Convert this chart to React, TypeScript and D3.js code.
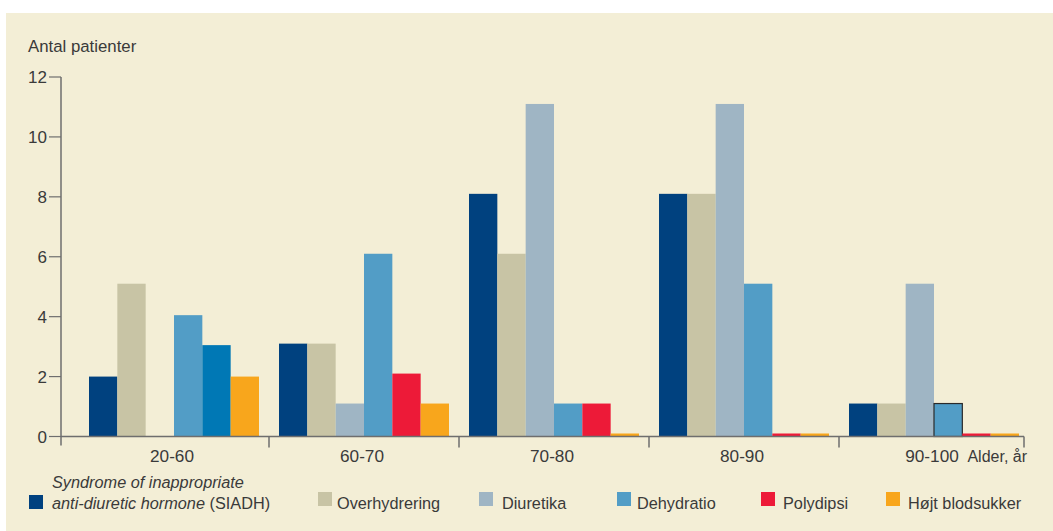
import React from "react";
import * as d3 from "d3";

const groups = ["20-60", "60-70", "70-80", "80-90", "90-100"];
const seriesNames = ["SIADH", "Overhydrering", "Diuretika", "Dehydratio", "Polydipsi", "Højt blodsukker"];
const siadh = [2, 3.1, 8.1, 8.1, 1.1];
const overhydrering = [5.1, 3.1, 6.1, 8.1, 1.1];
const diuretika = [0, 1.1, 11.1, 11.1, 5.1];
const dehydratio = [4.05, 6.1, 1.1, 5.1, 1.1];
const polydipsi = [3.05, 2.1, 1.1, 0.1, 0.1];
const hoejtBlodsukker = [2, 1.1, 0.1, 0.1, 0.1];
const yTicks = [0, 2, 4, 6, 8, 10, 12];
const seriesColors = ["#00417f", "#c8c4a5", "#9fb5c4", "#529dc6", "#ed1a38", "#f8a61c"];
const recoloredCells = [{ group: "20-60", series: "Polydipsi", fill: "#0078b5" }];
const outlinedCells = [{ group: "90-100", series: "Dehydratio" }];

const seriesValues = [siadh, overhydrering, diuretika, dehydratio, polydipsi, hoejtBlodsukker];

const W = 1053;
const H = 531;
const textColor = "#3a3a3a";
const axisColor = "#6e6e6e";
const font = "'Liberation Sans', Arial, sans-serif";

export default function App() {
  const x0 = d3.scaleBand<string>().domain(groups).range([79, 1029]).paddingInner(0);
  const groupInner = 170;
  const x1 = d3.scaleBand<string>().domain(seriesNames).range([0, groupInner]).paddingInner(0);
  const y = d3.scaleLinear().domain([0, 12]).range([436.5, 77]);
  const axisLeft = 61;
  const axisRight = 1024;
  const base = y(0);

  const bars: any[] = [];
  groups.forEach((g, gi) => {
    seriesNames.forEach((s, si) => {
      const v = seriesValues[si][gi];
      if (!v) return;
      const rc = recoloredCells.find((c) => c.group === g && c.series === s);
      const oc = outlinedCells.find((c) => c.group === g && c.series === s);
      const bx = (x0(g) as number) + (x0.bandwidth() - groupInner) / 2 + (x1(s) as number);
      bars.push(
        <rect
          key={g + s}
          x={bx}
          y={y(v)}
          width={x1.bandwidth()}
          height={base - y(v)}
          fill={rc ? rc.fill : seriesColors[si]}
          stroke={oc ? "#2a2a2a" : "none"}
          strokeWidth={oc ? 1.2 : 0}
        />
      );
    });
  });

  const separators = groups.slice(1).map((g) => (x0(g) as number));

  const legendItems = [
    { sq: 29, tx: 52 },
    { sq: 318, tx: 337 },
    { sq: 479, tx: 502 },
    { sq: 617, tx: 637 },
    { sq: 761, tx: 783 },
    { sq: 886, tx: 908 },
  ];

  return (
    <div style={{ position: "absolute", left: 0, top: 0 }}>
      <svg width={W} height={H} style={{ display: "block", background: "#ffffff" }} fontFamily={font}>
        <rect x={6} y={13} width={W - 6} height={H - 13} fill="#f3eed6" />
        <text x={28} y={52} fontSize={16.8} fill={textColor}>Antal patienter</text>

        {bars}

        {/* y axis */}
        <line x1={axisLeft} x2={axisLeft} y1={y(12)} y2={base + 9} stroke={axisColor} strokeWidth={1.5} />
        {yTicks.map((t) => (
          <g key={t}>
            <line x1={49} x2={axisLeft} y1={y(t)} y2={y(t)} stroke={axisColor} strokeWidth={1.2} />
            <text x={47} y={y(t)} dy="0.36em" textAnchor="end" fontSize={17} fill={textColor}>{t}</text>
          </g>
        ))}

        {/* x axis */}
        <line x1={axisLeft} x2={axisRight} y1={base} y2={base} stroke={axisColor} strokeWidth={1.5} />
        {separators.map((sx, i) => (
          <line key={i} x1={sx} x2={sx} y1={base} y2={base + 11} stroke={axisColor} strokeWidth={1.5} />
        ))}
        <line x1={axisRight} x2={axisRight} y1={base} y2={base + 11} stroke={axisColor} strokeWidth={1.5} />
        {groups.map((g) => (
          <text key={g} x={(x0(g) as number) + x0.bandwidth() / 2 - 2} y={462} textAnchor="middle" fontSize={17.2} fill={textColor}>{g}</text>
        ))}
        <text x={1027} y={462} textAnchor="end" fontSize={16} fill={textColor}>Alder, år</text>

        {/* legend */}
        {seriesNames.map((s, i) => (
          <rect key={s} x={legendItems[i].sq} y={i === 0 ? 495 : 492} width={14} height={14} fill={seriesColors[i]} />
        ))}
        <text x={52} y={488} fontSize={16.3} fill={textColor} fontStyle="italic">Syndrome of inappropriate</text>
        <text x={52} y={509} fontSize={16.3} fill={textColor}>
          <tspan fontStyle="italic">anti-diuretic hormone</tspan>
          <tspan> (SIADH)</tspan>
        </text>
        {seriesNames.slice(1).map((s, i) => (
          <text key={s} x={legendItems[i + 1].tx} y={509} fontSize={16.3} fill={textColor}>{s}</text>
        ))}
      </svg>
    </div>
  );
}
